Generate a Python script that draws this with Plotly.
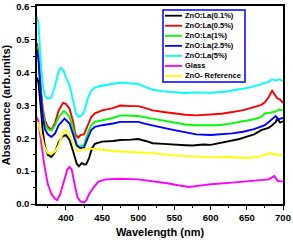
import plotly.graph_objects as go

wl_01 = [360, 362, 365, 368, 371, 375, 380, 385, 390, 395, 400, 405, 410, 415, 418, 422, 425, 428, 432, 436, 440, 450, 465, 475, 490, 500, 510, 520, 535, 550, 565, 575, 590, 600, 615, 625, 640, 650, 660, 670, 680, 685, 690, 692, 696, 700]
ab_01 = [0.385, 0.37, 0.30, 0.22, 0.175, 0.15, 0.143, 0.158, 0.188, 0.205, 0.210, 0.195, 0.160, 0.122, 0.115, 0.125, 0.120, 0.121, 0.140, 0.170, 0.183, 0.190, 0.192, 0.195, 0.196, 0.198, 0.192, 0.185, 0.183, 0.180, 0.179, 0.178, 0.181, 0.180, 0.186, 0.190, 0.198, 0.205, 0.212, 0.225, 0.232, 0.240, 0.250, 0.260, 0.248, 0.252]

wl_05 = [360, 362, 365, 368, 371, 375, 380, 385, 390, 396, 400, 405, 410, 413, 417, 420, 425, 430, 435, 440, 450, 465, 475, 490, 500, 510, 520, 535, 550, 565, 580, 600, 615, 630, 645, 660, 670, 675, 680, 685, 688, 692, 696, 700]
ab_05 = [0.490, 0.46, 0.36, 0.29, 0.255, 0.235, 0.226, 0.248, 0.285, 0.308, 0.305, 0.290, 0.250, 0.212, 0.202, 0.210, 0.212, 0.240, 0.265, 0.276, 0.285, 0.292, 0.300, 0.298, 0.298, 0.292, 0.285, 0.280, 0.275, 0.272, 0.270, 0.272, 0.275, 0.280, 0.286, 0.295, 0.302, 0.310, 0.325, 0.345, 0.335, 0.322, 0.318, 0.308]

wl_1 = [360, 362, 365, 368, 371, 375, 380, 385, 390, 397, 400, 405, 410, 415, 418, 425, 430, 435, 440, 450, 465, 475, 490, 500, 510, 520, 535, 550, 565, 580, 600, 610, 625, 640, 660, 670, 675, 682, 690, 695, 700]
ab_1 = [0.480, 0.45, 0.35, 0.28, 0.245, 0.228, 0.224, 0.240, 0.265, 0.283, 0.278, 0.265, 0.230, 0.182, 0.175, 0.180, 0.215, 0.240, 0.250, 0.255, 0.262, 0.270, 0.268, 0.268, 0.264, 0.260, 0.252, 0.246, 0.242, 0.240, 0.239, 0.240, 0.244, 0.250, 0.258, 0.265, 0.276, 0.278, 0.282, 0.288, 0.285]

wl_25 = [360, 362, 365, 368, 371, 375, 380, 385, 390, 398, 405, 410, 415, 420, 425, 430, 435, 440, 450, 465, 475, 490, 500, 510, 520, 535, 550, 565, 580, 600, 615, 630, 645, 660, 675, 686, 690, 694, 700]
ab_25 = [0.470, 0.44, 0.34, 0.265, 0.228, 0.212, 0.204, 0.215, 0.240, 0.260, 0.245, 0.212, 0.178, 0.170, 0.172, 0.200, 0.225, 0.235, 0.240, 0.245, 0.250, 0.250, 0.250, 0.244, 0.240, 0.232, 0.225, 0.218, 0.212, 0.210, 0.212, 0.215, 0.220, 0.228, 0.240, 0.262, 0.268, 0.258, 0.262]

wl_5 = [360, 362, 365, 368, 371, 375, 380, 385, 390, 393, 397, 400, 405, 410, 414, 418, 422, 425, 430, 435, 440, 450, 465, 475, 490, 500, 510, 520, 535, 550, 565, 580, 600, 620, 640, 655, 670, 680, 685, 690, 695, 700]
ab_5 = [0.570, 0.55, 0.44, 0.36, 0.33, 0.320, 0.325, 0.360, 0.405, 0.415, 0.405, 0.385, 0.362, 0.315, 0.275, 0.265, 0.270, 0.280, 0.320, 0.345, 0.355, 0.360, 0.365, 0.370, 0.367, 0.366, 0.356, 0.348, 0.343, 0.340, 0.338, 0.340, 0.339, 0.342, 0.350, 0.355, 0.365, 0.372, 0.380, 0.376, 0.380, 0.374]

wl_glass = [360, 362, 365, 370, 375, 380, 385, 388, 392, 397, 402, 405, 408, 412, 416, 420, 425, 428, 432, 438, 445, 455, 475, 500, 520, 540, 555, 570, 585, 600, 630, 660, 680, 688, 693, 700]
ab_glass = [0.265, 0.25, 0.20, 0.12, 0.06, 0.030, 0.016, 0.012, 0.030, 0.070, 0.105, 0.113, 0.105, 0.060, 0.020, 0.008, 0.005, 0.010, 0.030, 0.050, 0.068, 0.075, 0.077, 0.075, 0.070, 0.063, 0.057, 0.052, 0.056, 0.060, 0.065, 0.072, 0.075, 0.085, 0.070, 0.068]

wl_ref = [360, 362, 365, 370, 375, 380, 385, 390, 395, 398, 402, 407, 412, 417, 420, 430, 440, 450, 475, 500, 520, 550, 575, 600, 625, 650, 670, 680, 690, 700]
ab_ref = [0.250, 0.245, 0.22, 0.175, 0.155, 0.153, 0.160, 0.180, 0.210, 0.225, 0.220, 0.200, 0.175, 0.160, 0.165, 0.168, 0.168, 0.165, 0.160, 0.158, 0.155, 0.148, 0.145, 0.142, 0.143, 0.140, 0.145, 0.155, 0.150, 0.150]

series = [
    ("ZnO:La(0.1%)", wl_01, ab_01, "#000000"),
    ("ZnO:La(0.5%)", wl_05, ab_05, "#FF0000"),
    ("ZnO:La(1%)", wl_1, ab_1, "#00FF00"),
    ("ZnO:La(2.5%)", wl_25, ab_25, "#0000FF"),
    ("ZnO:La(5%)", wl_5, ab_5, "#00FFFF"),
    ("Glass", wl_glass, ab_glass, "#FF00FF"),
    ("ZnO- Reference", wl_ref, ab_ref, "#FFFF00"),
]

x_ticks = [400, 450, 500, 550, 600, 650, 700]
y_ticks = [0.0, 0.1, 0.2, 0.3, 0.4, 0.5, 0.6]

W, H = 293, 242
L, R, T, B = 37, 10, 6, 38
pw, ph = W - L - R, H - T - B

def px_x(px):
    return (px - L) / pw

def px_y(py):
    return (H - B - py) / ph

fig = go.Figure()
for name, x, y, c in series:
    fig.add_trace(go.Scatter(x=x, y=y, mode="lines", name=name, showlegend=False,
                             line=dict(color=c, width=1.9)))

font = "Liberation Sans, Arial, sans-serif"

# compact legend (box + key lines + labels)
shapes = [dict(type="rect", xref="paper", yref="paper",
               x0=px_x(163), x1=px_x(245), y0=px_y(82), y1=px_y(10),
               line=dict(color="#0000FF", width=1.5), fillcolor="white", layer="above")]
annotations = []
for i, (name, x, y, c) in enumerate(series):
    yc = 15.7 + i * 10.05
    shapes.append(dict(type="line", xref="paper", yref="paper",
                       x0=px_x(165), x1=px_x(182), y0=px_y(yc), y1=px_y(yc),
                       line=dict(color=c, width=1.8), layer="above"))
    annotations.append(dict(xref="paper", yref="paper", x=px_x(182.5), y=px_y(yc),
                            xanchor="left", yanchor="middle", showarrow=False, text=name,
                            font=dict(family=font, size=7.5, color="black", weight="bold")))

fig.update_layout(
    width=W, height=H,
    margin=dict(l=L, r=R, t=T, b=B),
    paper_bgcolor="white", plot_bgcolor="white",
    showlegend=False,
    shapes=shapes, annotations=annotations,
)
fig.update_xaxes(range=[360, 700], tickvals=x_ticks, ticks="outside", ticklen=4,
                 tickwidth=1.2, tickcolor="black", showline=True, linecolor="black",
                 linewidth=1.5, mirror=True, showgrid=False, zeroline=False, automargin=False,
                 tickfont=dict(family=font, size=9.5, color="black", weight="bold"),
                 minor=dict(dtick=25, ticks="outside", ticklen=2, tickcolor="black", showgrid=False),
                 title=dict(text="Wavelength (nm)", standoff=6,
                            font=dict(family=font, size=11, color="black", weight="bold")))
fig.update_yaxes(range=[0, 0.603], tickvals=y_ticks, ticktext=["0.0", "0.1", "0.2", "0.3", "0.4", "0.5", "0.6"],
                 ticks="outside", ticklen=4,
                 tickwidth=1.2, tickcolor="black", showline=True, linecolor="black",
                 linewidth=1.5, mirror=True, showgrid=False, zeroline=False, automargin=False,
                 tickfont=dict(family=font, size=9.5, color="black", weight="bold"),
                 minor=dict(tickvals=[0.05, 0.15, 0.25, 0.35, 0.45, 0.55], ticks="outside", ticklen=2,
                            tickcolor="black", showgrid=False),
                 title=dict(text="Absorbance (arb.units)", standoff=4,
                            font=dict(family=font, size=11, color="black", weight="bold")))

fig.write_html("out.html", config={"displayModeBar": False},
               post_script="document.body.style.margin='0';document.body.style.overflow='hidden';")
